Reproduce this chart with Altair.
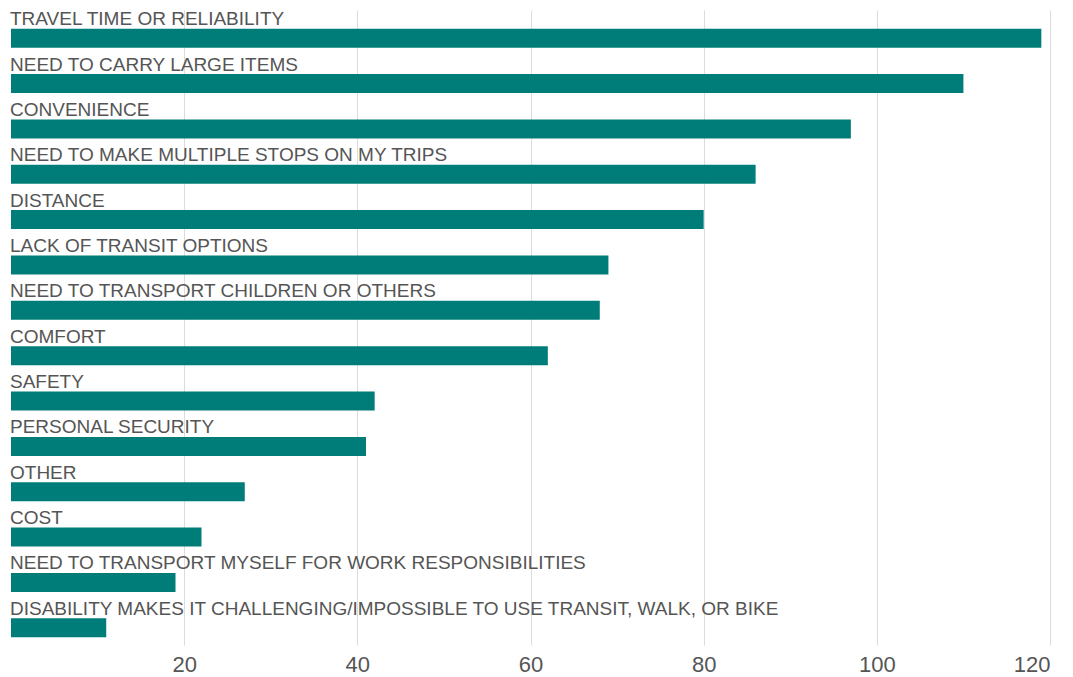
import altair as alt
import pandas as pd

categories = [
    "TRAVEL TIME OR RELIABILITY",
    "NEED TO CARRY LARGE ITEMS",
    "CONVENIENCE",
    "NEED TO MAKE MULTIPLE STOPS ON MY TRIPS",
    "DISTANCE",
    "LACK OF TRANSIT OPTIONS",
    "NEED TO TRANSPORT CHILDREN OR OTHERS",
    "COMFORT",
    "SAFETY",
    "PERSONAL SECURITY",
    "OTHER",
    "COST",
    "NEED TO TRANSPORT MYSELF FOR WORK RESPONSIBILITIES",
    "DISABILITY MAKES IT CHALLENGING/IMPOSSIBLE TO USE TRANSIT, WALK, OR BIKE",
]
values = [119, 110, 97, 86, 80, 69, 68, 62, 42, 41, 27, 22, 19, 11]
tick_values = [20, 40, 60, 80, 100, 120]

df = pd.DataFrame({"category": categories, "value": values})

y = alt.Y("category:N", sort=categories, axis=None,
          scale=alt.Scale(paddingInner=0, paddingOuter=0))

bars = alt.Chart(df).mark_bar(size=19, yOffset=5.5, color="#007d78").encode(
    x=alt.X("value:Q", scale=alt.Scale(domain=[0, 120], nice=False),
            axis=alt.Axis(values=tick_values, title=None, domain=False, ticks=False,
                          grid=True, gridColor="#dcdcdc", gridWidth=1,
                          labelFont="Liberation Sans", labelFontSize=22,
                          labelColor="#555555", labelPadding=9)),
    y=y,
)

labels = alt.Chart(df).mark_text(
    align="left", baseline="alphabetic", dy=-7.5, font="Liberation Sans",
    fontSize=19, color="#555555"
).encode(
    x=alt.value(-1),
    y=y,
    text="category:N",
)

chart = alt.layer(bars, labels).properties(
    width=1039, height=635,
    padding={"left": 2, "top": 2, "right": 5, "bottom": 5},
).configure_view(stroke=None)

chart.save("out.html", embed_options={"renderer": "svg", "actions": False})
